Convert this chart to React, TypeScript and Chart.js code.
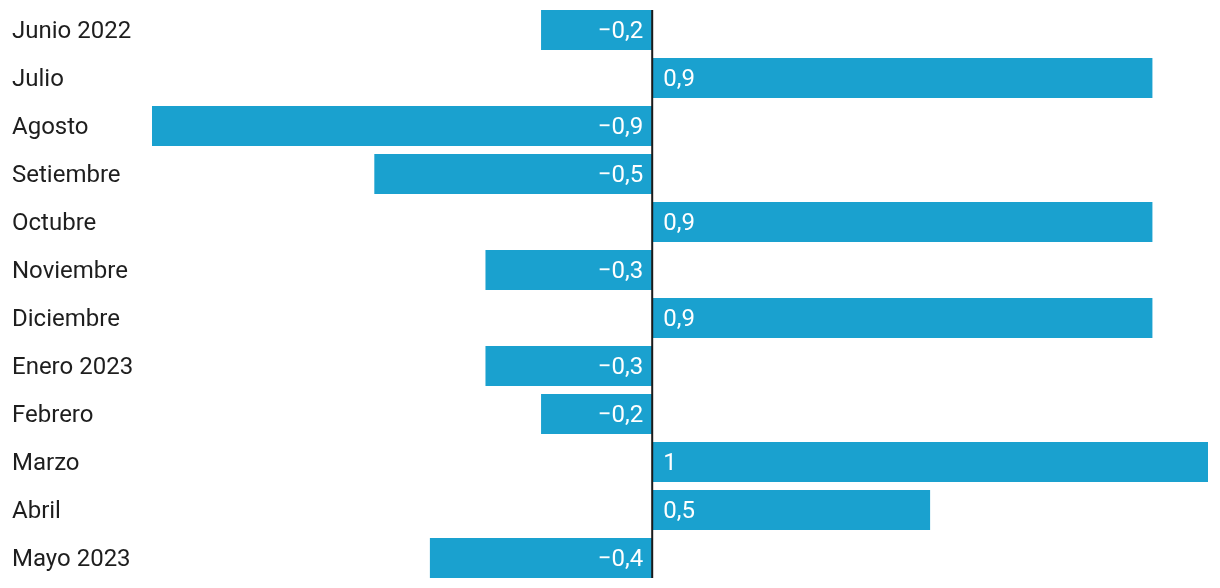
import React, { useEffect, useRef } from "react";
import { Chart, registerables } from "chart.js";

Chart.register(...registerables);

const categories = [
  "Junio 2022",
  "Julio",
  "Agosto",
  "Setiembre",
  "Octubre",
  "Noviembre",
  "Diciembre",
  "Enero 2023",
  "Febrero",
  "Marzo",
  "Abril",
  "Mayo 2023",
];
const values = [-0.2, 0.9, -0.9, -0.5, 0.9, -0.3, 0.9, -0.3, -0.2, 1, 0.5, -0.4];

const BAR_COLOR = "#1aa1cf";
const TEXT_COLOR = "#1e1e1e";
const FONT = "24px Roboto";

function fmt(v: number): string {
  const s = Math.abs(v).toString().replace(".", ",");
  return v < 0 ? "\u2212" + s : s;
}

const labelPlugin = {
  id: "customLabels",
  afterDatasetsDraw(chart: any) {
    const ctx = chart.ctx;
    const xs = chart.scales.x;
    const meta = chart.getDatasetMeta(0);
    const zeroX = xs.getPixelForValue(0);
    ctx.save();
    ctx.font = FONT;
    ctx.textBaseline = "middle";
    meta.data.forEach((bar: any, i: number) => {
      const v = values[i];
      const y = bar.y + 2;
      ctx.fillStyle = "#ffffff";
      if (v < 0) {
        ctx.textAlign = "right";
        ctx.fillText(fmt(v), zeroX - 9, y);
      } else {
        ctx.textAlign = "left";
        ctx.fillText(fmt(v), zeroX + 11, y);
      }
      ctx.fillStyle = TEXT_COLOR;
      ctx.textAlign = "left";
      ctx.fillText(categories[i], 12, y);
    });
    const first = meta.data[0];
    const last = meta.data[meta.data.length - 1];
    ctx.strokeStyle = "#1a1a1a";
    ctx.lineWidth = 2;
    ctx.beginPath();
    ctx.moveTo(zeroX, first.y - first.height / 2);
    ctx.lineTo(zeroX, last.y + last.height / 2);
    ctx.stroke();
    ctx.restore();
  },
};

export default function App() {
  const ref = useRef<HTMLCanvasElement>(null);
  useEffect(() => {
    if (!ref.current) return;
    const chart = new Chart(ref.current, {
      type: "bar",
      data: {
        labels: categories,
        datasets: [
          {
            data: values,
            backgroundColor: BAR_COLOR,
            borderWidth: 0,
            barPercentage: 40 / 48,
            categoryPercentage: 1,
          },
        ],
      },
      options: {
        indexAxis: "y",
        animation: false,
        responsive: false,
        maintainAspectRatio: false,
        layout: { padding: { left: 152, right: 12, top: 6, bottom: 6 } },
        plugins: { legend: { display: false }, tooltip: { enabled: false } },
        scales: {
          x: { display: false, min: -0.9, max: 1.0 },
          y: { display: false },
        },
      },
      plugins: [labelPlugin],
    });
    return () => chart.destroy();
  }, []);
  return (
    <div style={{ position: "fixed", left: 0, top: 0, width: 1220, height: 588, background: "#fff" }}>
      <canvas ref={ref} width={1220} height={588} style={{ width: 1220, height: 588 }} />
    </div>
  );
}
